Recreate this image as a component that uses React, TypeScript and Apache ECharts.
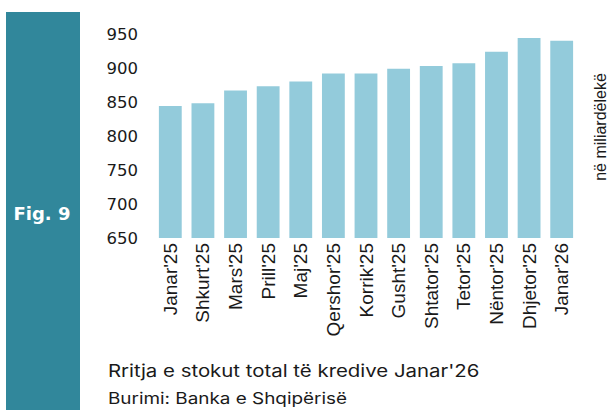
import React, { useEffect, useRef } from "react";
import * as echarts from "echarts";

const categories = [
  "Janar'25", "Shkurt'25", "Mars'25", "Prill'25", "Maj'25", "Qershor'25",
  "Korrik'25", "Gusht'25", "Shtator'25", "Tetor'25", "Nëntor'25", "Dhjetor'25", "Janar'26",
];
const stockValues = [844, 848, 867, 873, 880, 892, 892, 899, 903, 907, 924, 944, 940];
const yMin = 650;
const yMax = 950;
const yStep = 50;
const figLabel = "Fig. 9";
const unitLabel = "në miliardëlekë";
const titleText = "Rritja e stokut total të kredive Janar'26";
const sourceText = "Burimi: Banka e Shqipërisë";

export default function App() {
  const ref = useRef<HTMLDivElement>(null);
  useEffect(() => {
    if (!ref.current) return;
    const chart = echarts.init(ref.current, null, { renderer: "svg" });
    chart.setOption({
      animation: false,
      grid: { left: 154, right: 31, top: 34, bottom: 172, containLabel: false },
      xAxis: {
        type: "category",
        data: categories,
        axisLine: { show: false },
        axisTick: { show: false },
        axisLabel: {
          rotate: 90,
          margin: 5,
          fontFamily: "Liberation Sans",
          fontSize: 19,
          color: "#1a1a1a",
          interval: 0,
        },
      },
      yAxis: {
        type: "value",
        min: yMin,
        max: yMax,
        interval: yStep,
        axisLine: { show: false },
        axisTick: { show: false },
        splitLine: { show: false },
        axisLabel: {
          margin: 16,
          fontFamily: "DejaVu Sans",
          fontSize: 16.5,
          color: "#1a1a1a",
        },
      },
      series: [
        {
          type: "bar",
          data: stockValues,
          barCategoryGap: "30%",
          itemStyle: { color: "#93cbdb" },
        },
      ],
      graphic: [
        {
          type: "rect",
          shape: { x: 6, y: 12, width: 74, height: 398 },
          style: { fill: "#31879b" },
        },
        {
          type: "text",
          x: 42,
          y: 213,
          style: {
            text: figLabel,
            fill: "#ffffff",
            font: "bold 18px 'DejaVu Sans'",
            textAlign: "center",
            textVerticalAlign: "middle",
          },
        },
        {
          type: "text",
          x: 600,
          y: 127,
          rotation: Math.PI / 2,
          style: {
            text: unitLabel,
            fill: "#1a1a1a",
            font: "16px 'Liberation Sans'",
            textAlign: "center",
            textVerticalAlign: "middle",
          },
        },
        {
          type: "text",
          x: 108,
          y: 371,
          scaleX: 1.2,
          style: {
            text: titleText,
            fill: "#1a1a1a",
            font: "17px Inter",
            textAlign: "left",
            textVerticalAlign: "middle",
          },
        },
        {
          type: "text",
          x: 108,
          y: 398,
          scaleX: 1.22,
          style: {
            text: sourceText,
            fill: "#1a1a1a",
            font: "15.5px Inter",
            textAlign: "left",
            textVerticalAlign: "middle",
          },
        },
      ],
    });
    return () => chart.dispose();
  }, []);
  return (
    <div
      ref={ref}
      style={{ position: "fixed", left: 0, top: 0, width: 609, height: 410, background: "#ffffff" }}
    />
  );
}
